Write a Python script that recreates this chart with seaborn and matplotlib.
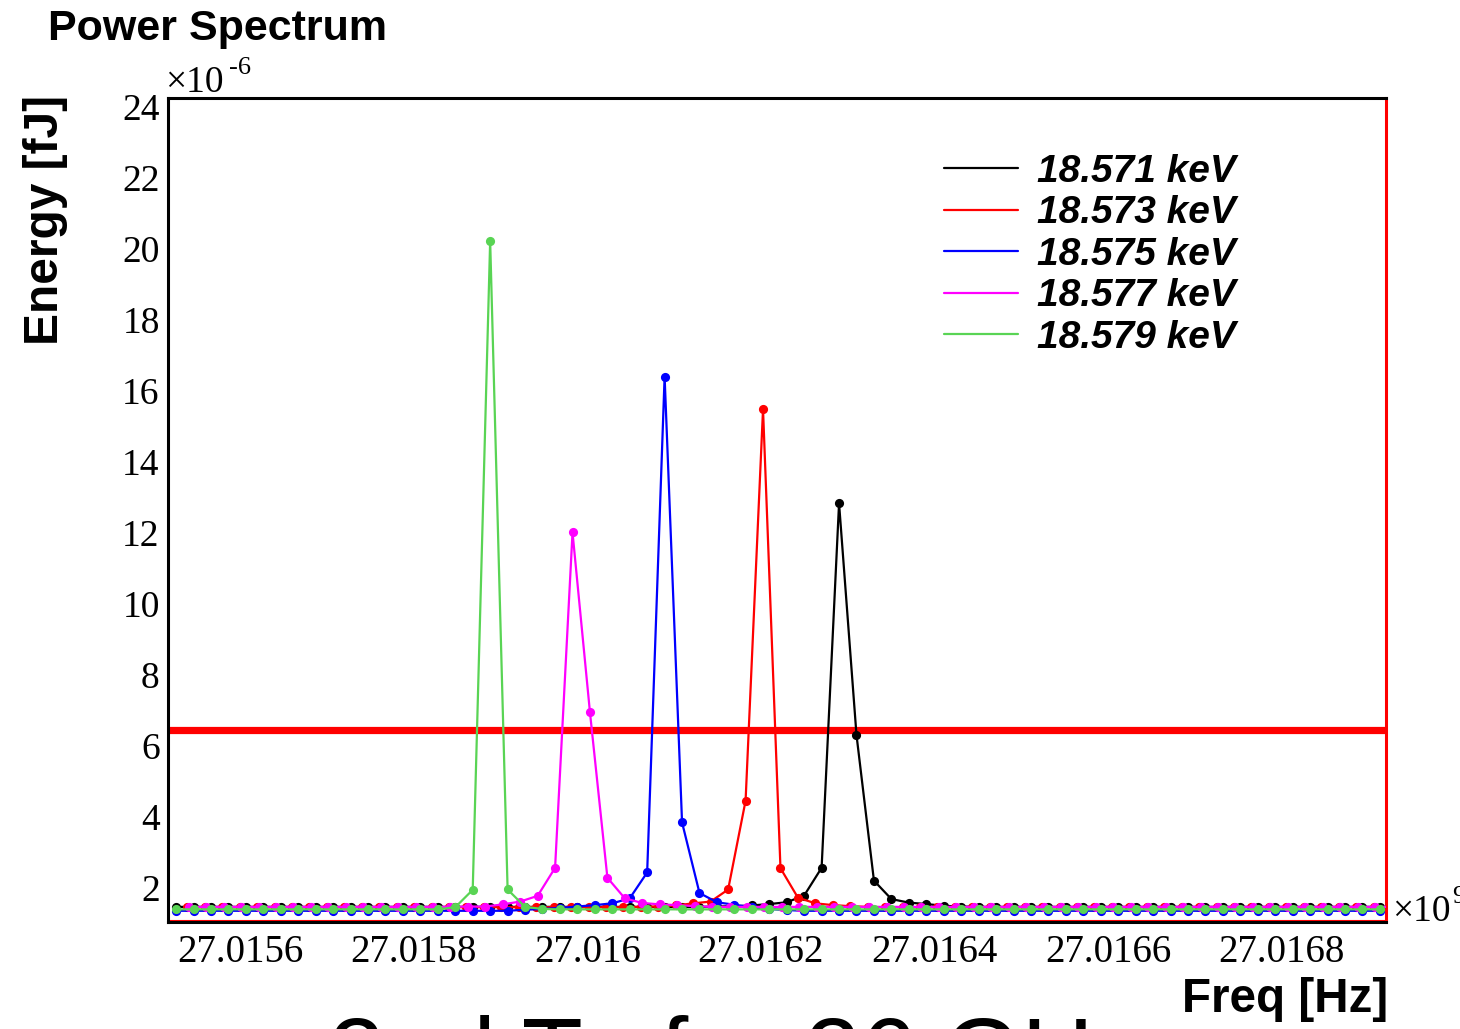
import numpy as np
import pandas as pd
import matplotlib
matplotlib.use("Agg")
import matplotlib.pyplot as plt
from matplotlib.lines import Line2D
from matplotlib.ticker import FixedLocator, MultipleLocator
import seaborn as sns

# ---------------- data ----------------
labels = ["18.571 keV", "18.573 keV", "18.575 keV", "18.577 keV", "18.579 keV"]
colors = ["#000000", "#ff0000", "#0000ff", "#ff00ff", "#59d454"]
bin_width = 0.0000201                     # in units of 1e9 Hz
start_freq = [27.0155264, 27.0155393, 27.0155264, 27.0155409, 27.0155264]

energy_18571 = [
    1.46, 1.46, 1.46, 1.46, 1.46, 1.46, 1.46, 1.46, 1.46, 1.46,
    1.46, 1.46, 1.46, 1.46, 1.46, 1.46, 1.46, 1.46, 1.46, 1.46,
    1.46, 1.46, 1.46, 1.46, 1.46, 1.46, 1.46, 1.46, 1.46, 1.46,
    1.46, 1.47, 1.48, 1.50, 1.54, 1.59, 1.78, 2.56, 12.83, 6.30,
    2.20, 1.68, 1.58, 1.54, 1.49, 1.47, 1.46, 1.46, 1.46, 1.46,
    1.46, 1.46, 1.46, 1.46, 1.46, 1.46, 1.46, 1.46, 1.46, 1.46,
    1.46, 1.46, 1.46, 1.46, 1.46, 1.46, 1.46, 1.46, 1.46, 1.46,
]
energy_18573 = [
    1.45, 1.45, 1.45, 1.45, 1.45, 1.45, 1.45, 1.45, 1.45, 1.45,
    1.45, 1.45, 1.45, 1.45, 1.45, 1.45, 1.45, 1.45, 1.45, 1.45,
    1.45, 1.45, 1.45, 1.45, 1.45, 1.45, 1.46, 1.47, 1.50, 1.56,
    1.61, 1.95, 4.45, 15.48, 2.55, 1.72, 1.56, 1.51, 1.48, 1.46,
    1.45, 1.45, 1.45, 1.45, 1.45, 1.45, 1.45, 1.45, 1.45, 1.45,
    1.45, 1.45, 1.45, 1.45, 1.45, 1.45, 1.45, 1.45, 1.45, 1.45,
    1.45, 1.45, 1.45, 1.45, 1.45, 1.45, 1.45, 1.45, 1.45, 1.45,
]
energy_18575 = [
    1.35, 1.35, 1.35, 1.35, 1.35, 1.35, 1.35, 1.35, 1.35, 1.35,
    1.35, 1.35, 1.35, 1.35, 1.35, 1.35, 1.35, 1.35, 1.35, 1.35,
    1.38, 1.40, 1.43, 1.47, 1.51, 1.56, 1.70, 2.43, 16.40, 3.84,
    1.85, 1.59, 1.52, 1.45, 1.40, 1.37, 1.35, 1.35, 1.35, 1.35,
    1.35, 1.35, 1.35, 1.35, 1.35, 1.35, 1.35, 1.35, 1.35, 1.35,
    1.35, 1.35, 1.35, 1.35, 1.35, 1.35, 1.35, 1.35, 1.35, 1.35,
    1.35, 1.35, 1.35, 1.35, 1.35, 1.35, 1.35, 1.35, 1.35, 1.35,
]
energy_18577 = [
    1.46, 1.46, 1.46, 1.46, 1.46, 1.46, 1.46, 1.46, 1.46, 1.46,
    1.46, 1.46, 1.46, 1.46, 1.46, 1.46, 1.47, 1.47, 1.53, 1.61,
    1.77, 2.56, 12.01, 6.94, 2.28, 1.70, 1.57, 1.53, 1.51, 1.48,
    1.46, 1.46, 1.46, 1.46, 1.46, 1.46, 1.46, 1.46, 1.46, 1.46,
    1.46, 1.46, 1.46, 1.46, 1.46, 1.46, 1.46, 1.46, 1.46, 1.46,
    1.46, 1.46, 1.46, 1.46, 1.46, 1.46, 1.46, 1.46, 1.46, 1.46,
    1.46, 1.46, 1.46, 1.46, 1.46, 1.46, 1.46, 1.46, 1.46, 1.46,
]
energy_18579 = [
    1.39, 1.39, 1.39, 1.39, 1.39, 1.39, 1.39, 1.39, 1.39, 1.39,
    1.39, 1.39, 1.39, 1.39, 1.39, 1.39, 1.45, 1.94, 20.22, 1.95,
    1.46, 1.40, 1.39, 1.39, 1.39, 1.39, 1.39, 1.39, 1.39, 1.39,
    1.39, 1.39, 1.39, 1.39, 1.39, 1.39, 1.39, 1.39, 1.39, 1.39,
    1.39, 1.39, 1.39, 1.39, 1.39, 1.39, 1.39, 1.39, 1.39, 1.39,
    1.39, 1.39, 1.39, 1.39, 1.39, 1.39, 1.39, 1.39, 1.39, 1.39,
    1.39, 1.39, 1.39, 1.39, 1.39, 1.39, 1.39, 1.39, 1.39, 1.39,
]
all_energy = [energy_18571, energy_18573, energy_18575, energy_18577, energy_18579]

threshold_level = 6.45
threshold_floor = 1.07

x_ticks = [27.0156, 27.0158, 27.0160, 27.0162, 27.0164, 27.0166, 27.0168]
x_ticklabels = ["27.0156", "27.0158", "27.016", "27.0162", "27.0164", "27.0166", "27.0168"]
y_ticks = [2, 4, 6, 8, 10, 12, 14, 16, 18, 20, 22, 24]
x_range = (27.015517, 27.0169204)
y_range = (1.034, 24.25)

# ---------------- table ----------------
frames = []
for lab, f0, vals in zip(labels, start_freq, all_energy):
    idx = np.arange(len(vals))
    frames.append(pd.DataFrame({"freq": f0 + bin_width * idx,
                                "energy": vals, "series": lab}))
df = pd.concat(frames, ignore_index=True)

# ---------------- style ----------------
sns.set_theme(style="white")
plt.rcParams["font.family"] = ["Liberation Sans", "DejaVu Sans"]
plt.rcParams["text.color"] = "black"
plt.rcParams["axes.labelcolor"] = "black"
plt.rcParams["xtick.color"] = "black"
plt.rcParams["ytick.color"] = "black"

W, H = 1460, 1029
fig = plt.figure(figsize=(W / 100, H / 100), dpi=100)
L, R, T, B = 168, 1386, 98, 922
ax = fig.add_axes([L / W, 1 - B / H, (R - L) / W, (B - T) / H])

# threshold (red box)
ax.plot([x_range[0], x_range[1]], [threshold_level, threshold_level],
        color="#ff0000", lw=5.2, solid_capstyle="butt", zorder=1.5)
ax.plot([x_range[0], x_range[1]], [threshold_floor, threshold_floor],
        color="#ff0000", lw=1.5, zorder=1.5)

sns.lineplot(data=df, x="freq", y="energy", hue="series", hue_order=labels,
             palette=colors, marker="o", markersize=6.6, markeredgewidth=0,
             linewidth=1.6, estimator=None, sort=False, legend=False, ax=ax,
             zorder=3)

ax.set_xlim(*x_range)
ax.set_ylim(*y_range)
ax.set_xlabel("")
ax.set_ylabel("")

for s in ["left", "bottom", "top"]:
    ax.spines[s].set_color("black")
    ax.spines[s].set_linewidth(2.2)
ax.spines["right"].set_color("#ff0000")
ax.spines["right"].set_linewidth(2.2)

ax.xaxis.set_major_locator(FixedLocator(x_ticks))
ax.set_xticklabels(x_ticklabels)
ax.xaxis.set_minor_locator(MultipleLocator(0.00005))
ax.yaxis.set_major_locator(FixedLocator(y_ticks))
ax.yaxis.set_minor_locator(MultipleLocator(0.4))

serif = ["Liberation Serif", "DejaVu Serif"]
ax.tick_params(axis="both", which="both", direction="in", width=1.6,
               top=False, right=False, colors="black")
ax.tick_params(axis="y", which="major", length=26.5, pad=6)
ax.tick_params(axis="y", which="minor", length=13)
ax.tick_params(axis="x", which="major", length=16.5, pad=9)
ax.tick_params(axis="x", which="minor", length=11.5)
for t in ax.get_xticklabels():
    t.set_fontfamily(serif)
    t.set_fontsize(28)
    t.set_color("black")
for t in ax.get_yticklabels():
    t.set_fontfamily(serif)
    t.set_fontsize(27)
    t.set_color("black")

# legend
handles = [Line2D([0], [0], color=c, lw=1.6) for c in colors]
leg = fig.legend(handles, labels, loc="upper left",
                 bbox_to_anchor=(944 / W, 1 - 154 / H),
                 bbox_transform=fig.transFigure, frameon=False,
                 borderpad=0, borderaxespad=0, handlelength=1.9,
                 handletextpad=0.5, labelspacing=0.14,
                 prop={"family": ["Liberation Sans", "DejaVu Sans"],
                       "weight": "bold", "style": "italic", "size": 28})
for txt in leg.get_texts():
    txt.set_color("black")

# texts
fig.text(48 / W, 1 - 29 / H, "Power Spectrum", ha="left", va="center",
         fontsize=31, fontweight="bold", color="black")
fig.text(45 / W, 1 - 95 / H, "Energy [fJ]", ha="center", va="top",
         rotation=90, fontsize=34.5, fontweight="bold", color="black")
fig.text(1388 / W, 1 - 1000 / H, "Freq [Hz]", ha="right", va="center",
         fontsize=34.3, fontweight="bold", color="black")

fig.text(165 / W, 1 - 92 / H, "×10", ha="left", va="baseline",
         fontsize=27, family=serif, color="black")
fig.text(229 / W, 1 - 74 / H, "-6", ha="left", va="baseline",
         fontsize=19, family=serif, color="black")
fig.text(1392 / W, 1 - 921 / H, "×10", ha="left", va="baseline",
         fontsize=27, family=serif, color="black")
fig.text(1452 / W, 1 - 903 / H, "9", ha="left", va="baseline",
         fontsize=19, family=serif, color="black")

# cut-off text at the bottom edge
fig.text(329 / W, 1 - 1088 / H, "2nd Tx for 26 GHz", ha="left",
         va="baseline", fontsize=72, color="black")

fig.savefig("out.png", dpi=100)
